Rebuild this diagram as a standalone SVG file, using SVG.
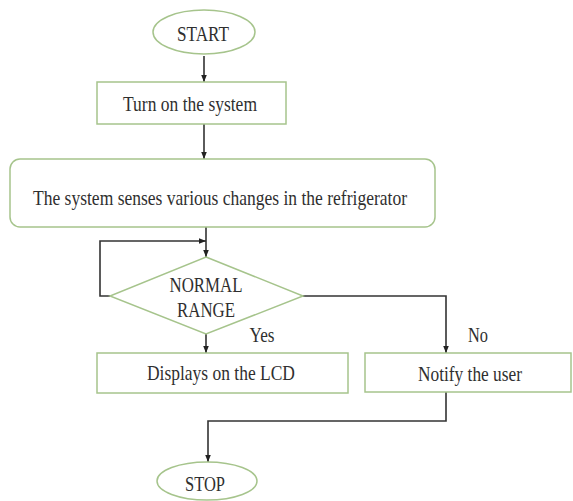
<svg xmlns="http://www.w3.org/2000/svg" width="573" height="501" viewBox="0 0 573 501">
<style>
.node{fill:#ffffff;stroke:#a6c48c;stroke-width:1.5}
.t{font-family:"Liberation Serif",serif;font-size:22px;fill:#2f2f2f;text-anchor:middle}
.c{fill:none;stroke:#333;stroke-width:1.6}
</style>
<defs>
<marker id="ah" markerWidth="8" markerHeight="8" refX="7" refY="4" orient="auto" markerUnits="userSpaceOnUse">
<path d="M0,1.2 L7,4 L0,6.8 Z" fill="#222"/>
</marker>
</defs>
<rect width="573" height="501" fill="#ffffff"/>
<g id="connectors">
<line class="c" x1="204" y1="56" x2="204" y2="82" marker-end="url(#ah)"/>
<line class="c" x1="204" y1="124" x2="204" y2="159" marker-end="url(#ah)"/>
<line class="c" x1="206" y1="227" x2="206" y2="257" marker-end="url(#ah)"/>
<polyline class="c" points="110,296 100,296 100,241 206,241" marker-end="url(#ah)"/>
<line class="c" x1="206" y1="334" x2="206" y2="353" marker-end="url(#ah)"/>
<polyline class="c" points="303,296 446,296 446,353" marker-end="url(#ah)"/>
<polyline class="c" points="446,392 446,421 208,421 208,462" marker-end="url(#ah)"/>
</g>
<g id="start">
<ellipse class="node" cx="204" cy="32" rx="51" ry="22"/>
<text class="t" x="203" y="41" textLength="52" lengthAdjust="spacingAndGlyphs">START</text>
</g>
<g id="turn-on">
<rect class="node" x="97" y="82" width="189" height="42"/>
<text class="t" x="190" y="111" textLength="134" lengthAdjust="spacingAndGlyphs">Turn on the system</text>
</g>
<g id="senses">
<rect class="node" x="10" y="159" width="425" height="68" rx="10"/>
<text class="t" x="220" y="205" textLength="374" lengthAdjust="spacingAndGlyphs">The system senses various changes in the refrigerator</text>
</g>
<g id="normal-range">
<polygon class="node" points="206,257 303,296 206,334 110,296"/>
<text class="t" x="206" y="292" textLength="73" lengthAdjust="spacingAndGlyphs">NORMAL</text>
<text class="t" x="206" y="317" textLength="58" lengthAdjust="spacingAndGlyphs">RANGE</text>
</g>
<g id="labels">
<text class="t" x="262" y="342" textLength="25" lengthAdjust="spacingAndGlyphs">Yes</text>
<text class="t" x="478" y="342" textLength="20" lengthAdjust="spacingAndGlyphs">No</text>
</g>
<g id="display">
<rect class="node" x="97" y="353" width="251" height="40"/>
<text class="t" x="221" y="380" textLength="148" lengthAdjust="spacingAndGlyphs">Displays on the LCD</text>
</g>
<g id="notify">
<rect class="node" x="365" y="353" width="206" height="39"/>
<text class="t" x="470" y="381" textLength="104" lengthAdjust="spacingAndGlyphs">Notify the user</text>
</g>
<g id="stop">
<ellipse class="node" cx="207" cy="481" rx="50" ry="19"/>
<text class="t" x="205" y="491" textLength="40" lengthAdjust="spacingAndGlyphs">STOP</text>
</g>
</svg>
